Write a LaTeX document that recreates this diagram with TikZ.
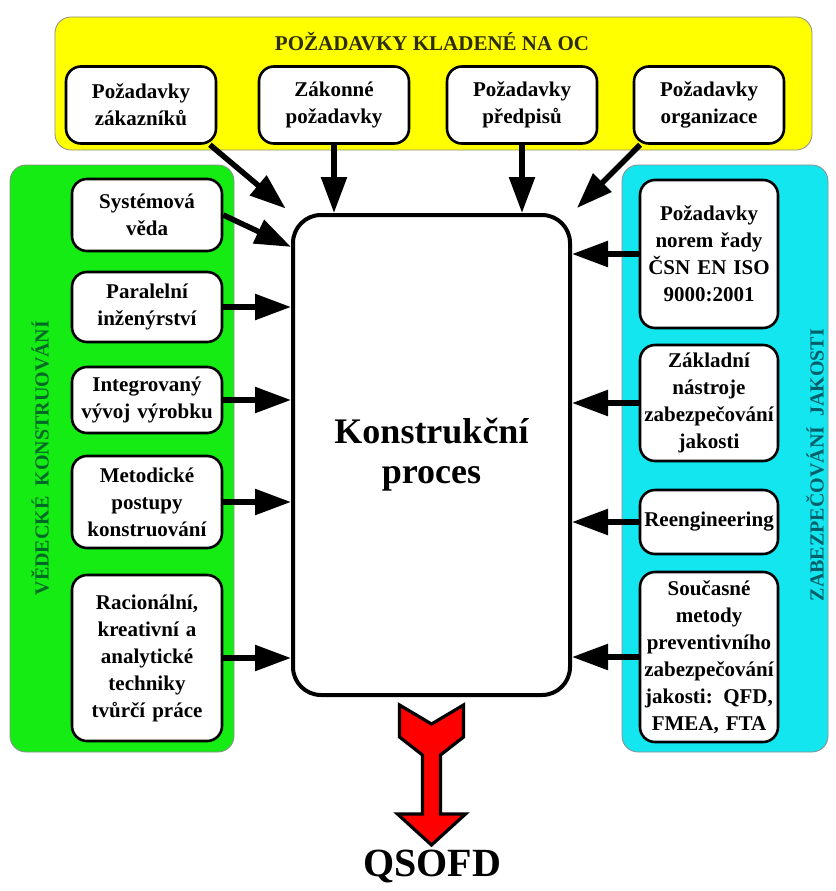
\documentclass[tikz,border=0pt]{standalone}
\usepackage{fontspec}
\setmainfont{Liberation Serif}
\usetikzlibrary{arrows.meta, positioning, calc}

\definecolor{ocyellow}{RGB}{255,255,0}
\definecolor{vkgreen}{RGB}{20,236,20}
\definecolor{zjcyan}{RGB}{20,230,240}
\definecolor{vkdark}{RGB}{0,105,40}
\definecolor{zjdark}{RGB}{0,95,105}
\definecolor{ocdark}{RGB}{45,45,10}

\begin{document}
\begin{tikzpicture}[x=1pt, y=-1pt,
    panel/.style={draw=black!45, line width=0.8pt, rounded corners=16pt},
    box/.style={draw, fill=white, line width=2.6pt, rounded corners=15pt,
        align=center, inner sep=0pt, minimum height=#1,
        font=\fontsize{21}{27}\selectfont\bfseries},
    box/.default=70pt,
    leftbox/.style={box=#1, text width=146pt, minimum width=150pt},
    rightbox/.style={box=#1, text width=136pt, minimum width=138pt},
    topbox/.style={box=77pt, text width=146pt, minimum width=150pt},
    arr/.style={line width=5.5pt, -{Triangle[length=36pt, width=25pt]}},
    lbl/.style={font=\fontsize{20}{24}\selectfont\bfseries, rotate=90}]

    \useasboundingbox (0,0) rectangle (835,891);

    % panels
    \draw[panel, fill=ocyellow] (55,17) rectangle (812,150);
    \draw[panel, fill=vkgreen] (10,165) rectangle (234,752);
    \draw[panel, fill=zjcyan] (622,165) rectangle (828,752);

    \node[font=\fontsize{21}{24}\selectfont\bfseries, text=ocdark] (oc) at (432,42)
        {POŽADAVKY KLADENÉ NA OC};
    \node[lbl, text=vkdark] (vk) at (40,458) {VĚDECKÉ\ \ KONSTRUOVÁNÍ};
    \node[lbl, text=zjdark] (zj) at (815,465) {ZABEZPEČOVÁNÍ\ \ JAKOSTI};

    % top row
    \node[topbox] (pozzak)  at (141,105) {Požadavky\\zákazníků};
    \node[topbox] (zakpoz)  at (334,105) {Zákonné\\požadavky};
    \node[topbox] (pozpred) at (522,105) {Požadavky\\předpisů};
    \node[topbox] (pozorg)  at (709,105) {Požadavky\\organizace};

    % left column
    \node[leftbox=72pt]  (sysveda) at (147,215) {Systémová\\věda};
    \node[leftbox=70pt]  (paralel) at (147,307) {Paralelní\\inženýrství};
    \node[leftbox=66pt]  (integr)  at (147,400) {Integrovaný\\vývoj výrobku};
    \node[leftbox=92pt]  (metod)   at (147,502) {Metodické\\postupy\\konstruování};
    \node[leftbox=166pt] (racio)   at (147,658)
        {Racionální,\\kreativní a\\analytické\\techniky\\tvůrčí práce};

    % right column
    \node[rightbox=148pt] (normy)    at (709,254) {Požadavky\\norem řady\\ČSN EN ISO\\9000:2001};
    \node[rightbox=116pt] (nastroje) at (709,403) {Základní\\nástroje\\zabezpečování\\jakosti};
    \node[rightbox=64pt]  (reeng)    at (709,522) {Reengineering};
    \node[rightbox=170pt] (soucas)   at (709,657)
        {Současné\\metody\\preventivního\\zabezpečování\\jakosti: QFD,\\FMEA, FTA};

    % centre
    \node[draw, fill=white, line width=4pt, rounded corners=28pt,
        minimum width=277pt, minimum height=480pt, align=center,
        font=\fontsize{36}{40}\selectfont\bfseries] (proces) at (431.5,455)
        {Konstrukční\\proces};

    % arrows into the process
    \foreach \n in {paralel, integr, metod, racio}
        \draw[arr] (\n.east) -- (\n.east -| proces.west);
    \foreach \n in {normy, nastroje, reeng, soucas}
        \draw[arr] (\n.west) -- (\n.west -| proces.east);
    \foreach \n in {zakpoz, pozpred}
        \draw[arr] (\n.south) -- (\n.south |- proces.north);
    \draw[arr, shorten >=7pt] (pozzak.-30) -- (proces.north west);
    \draw[arr, shorten >=7pt] (pozorg.210) -- (proces.north east);
    \draw[arr] (sysveda.east) -- ($(proces.north west)!0.07!(proces.south west)$);

    % output
    \node[font=\fontsize{40}{44}\selectfont\bfseries] (qsofd) at (432,866) {QSOFD};
    \coordinate (vystup) at ($(proces.south)+(0,8)$);
    \draw[line width=3.2pt, line join=miter, fill=red, shift={(vystup)}]
        (-32,0) -- (0,19) -- (32,0) -- (32,32) -- (9,50) -- (9,109) -- (34,109)
        -- (0,140) -- (-34,109) -- (-9,109) -- (-9,50) -- (-32,32) -- cycle;

\end{tikzpicture}
\end{document}
